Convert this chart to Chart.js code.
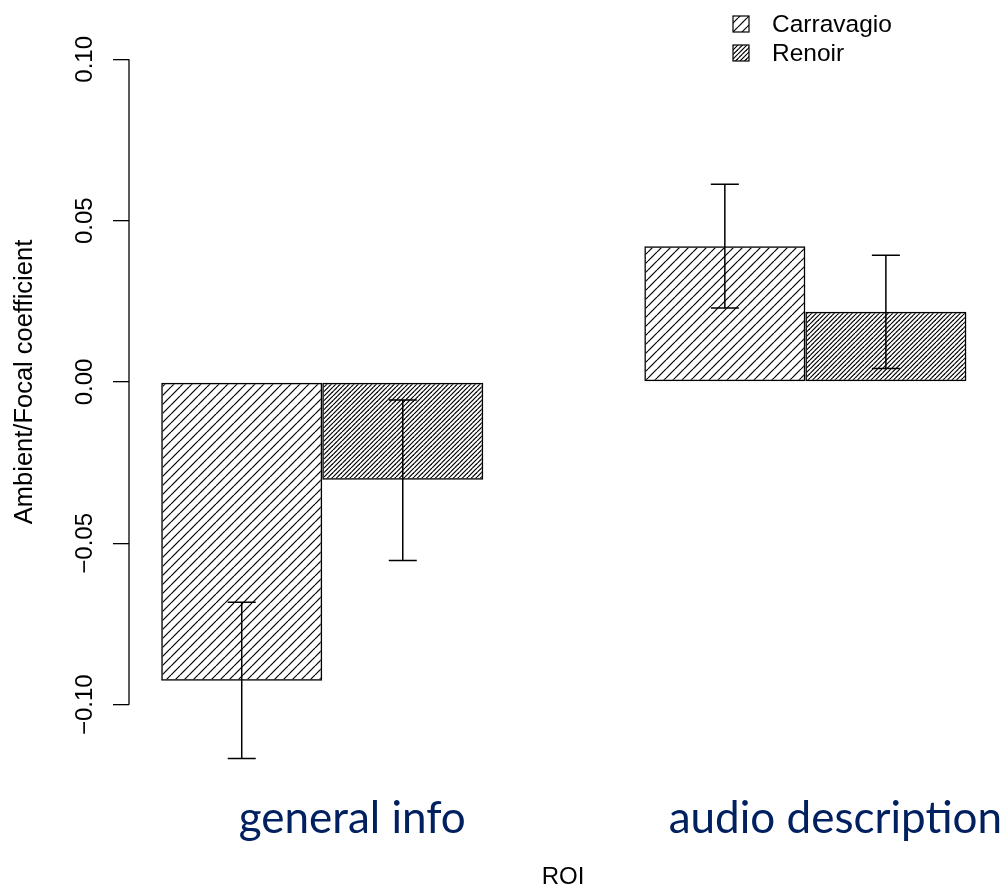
<!DOCTYPE html>
<html>
<head>
<meta charset="utf-8">
<script src="https://cdn.jsdelivr.net/npm/chart.js@4/dist/chart.umd.min.js"></script>
<style>
  html, body { margin: 0; padding: 0; background: #fff; }
  #wrap { width: 1008px; height: 890px; }
</style>
</head>
<body>
<div id="wrap"><canvas id="roiChart"></canvas></div>
<script>
// data
var roiLabels = ['general info', 'audio description'];
var seriesNames = ['Carravagio', 'Renoir'];
var carravagioMean = [-0.0926, 0.0421];
var carravagioLow = [-0.1167, 0.0229];
var carravagioHigh = [-0.0683, 0.0613];
var renoirMean = [-0.0303, 0.0218];
var renoirLow = [-0.0553, 0.0042];
var renoirHigh = [-0.0056, 0.0393];
var yTickValues = [-0.10, -0.05, 0.00, 0.05, 0.10];

var rFont = '"Liberation Sans", Arial, sans-serif';

// R barplot(beside=TRUE) layout: one bar of space, then the group's bars
function groupCentre(i) {
    var n = seriesNames.length;
    return 1 + n / 2 + i * (n + 1);
}

function hatch(size, step) {
    var c = document.createElement('canvas');
    c.width = size;
    c.height = size;
    var g = c.getContext('2d');
    g.strokeStyle = '#000';
    g.lineWidth = 1.2;
    for (var o = -size; o <= size; o += step) {
        g.beginPath();
        g.moveTo(o, size);
        g.lineTo(o + size, 0);
        g.stroke();
    }
    return g.createPattern(c, 'repeat');
}

function points(values) {
    return values.map(function(v, i) {
        return { x: groupCentre(i), y: v };
    });
}

var errorBars = {
    id: 'errorBars',
    afterDatasetsDraw: function(chart) {
        var ctx = chart.ctx;
        var y = chart.scales.y;
        var lows = [carravagioLow, renoirLow];
        var highs = [carravagioHigh, renoirHigh];
        ctx.save();
        ctx.strokeStyle = '#000';
        ctx.lineWidth = 1.5;
        chart.data.datasets.forEach(function(ds, d) {
            chart.getDatasetMeta(d).data.forEach(function(bar, j) {
                var top = y.getPixelForValue(highs[d][j]);
                var bot = y.getPixelForValue(lows[d][j]);
                ctx.beginPath();
                ctx.moveTo(bar.x, top);
                ctx.lineTo(bar.x, bot);
                ctx.moveTo(bar.x - 14, top);
                ctx.lineTo(bar.x + 14, top);
                ctx.moveTo(bar.x - 14, bot);
                ctx.lineTo(bar.x + 14, bot);
                ctx.stroke();
            });
        });
        ctx.restore();
    }
};

var rAxisAndLegend = {
    id: 'rAxisAndLegend',
    afterDraw: function(chart) {
        var ctx = chart.ctx;
        var y = chart.scales.y;
        ctx.save();
        // y axis line only across the tick range, like R
        ctx.strokeStyle = '#000';
        ctx.lineWidth = 1.3;
        ctx.beginPath();
        ctx.moveTo(y.right, y.getPixelForValue(yTickValues[0]));
        ctx.lineTo(y.right, y.getPixelForValue(yTickValues[yTickValues.length - 1]));
        ctx.stroke();

        // legend, top right
        ctx.font = '24.5px ' + rFont;
        ctx.textBaseline = 'middle';
        ctx.textAlign = 'left';
        chart.data.datasets.forEach(function(ds, i) {
            var cy = 24 + i * 29;
            ctx.fillStyle = ds.backgroundColor;
            ctx.fillRect(733, cy - 8, 16, 16);
            ctx.lineWidth = 1.2;
            ctx.strokeRect(733, cy - 8, 16, 16);
            ctx.fillStyle = '#000';
            ctx.fillText(ds.label, 772, cy + 1);
        });
        ctx.restore();
    }
};

var ctx = document.getElementById('roiChart').getContext('2d');
var roiChart = new Chart(ctx, {
    type: 'bar',
    data: {
        datasets: [{
            label: seriesNames[0],
            data: points(carravagioMean),
            backgroundColor: hatch(9, 9),
            borderColor: '#000',
            borderWidth: 1.5,
            borderSkipped: false
        }, {
            label: seriesNames[1],
            data: points(renoirMean),
            backgroundColor: hatch(9, 4.5),
            borderColor: '#000',
            borderWidth: 1.5,
            borderSkipped: false
        }]
    },
    plugins: [errorBars, rAxisAndLegend],
    options: {
        responsive: true,
        maintainAspectRatio: false,
        animation: false,
        events: [],
        categoryPercentage: 2 / 3,
        barPercentage: 1,
        layout: {
            padding: { top: 40, right: 11, left: 0, bottom: 0 }
        },
        plugins: {
            legend: { display: false },
            tooltip: { enabled: false }
        },
        scales: {
            x: {
                type: 'linear',
                bounds: 'data',
                offset: false,
                min: 0.8,
                max: 6.19,
                afterBuildTicks: function(scale) {
                    scale.ticks = roiLabels.map(function(l, i) {
                        return { value: groupCentre(i) };
                    });
                },
                afterFit: function(scale) {
                    scale.height = 166;
                },
                // invisible tick marks push the labels down without shrinking the plot
                grid: {
                    display: true,
                    offset: false,
                    drawOnChartArea: false,
                    drawTicks: true,
                    tickLength: 68,
                    color: 'rgba(0,0,0,0)'
                },
                border: { display: false },
                ticks: {
                    autoSkip: false,
                    minRotation: 0,
                    maxRotation: 0,
                    padding: 0,
                    labelOffset: 30,
                    color: '#002060',
                    font: { family: 'Lato, "Open Sans", sans-serif', size: 44 },
                    callback: function(value, index) {
                        return roiLabels[index];
                    }
                },
                title: {
                    display: true,
                    text: 'ROI',
                    color: '#000',
                    font: { family: rFont, size: 24, lineHeight: 1 },
                    padding: { top: 0, bottom: 1 }
                }
            },
            y: {
                bounds: 'data',
                min: -0.106,
                max: 0.106,
                afterBuildTicks: function(scale) {
                    scale.ticks = yTickValues.map(function(v) {
                        return { value: v };
                    });
                },
                afterFit: function(scale) {
                    scale.width = 129;
                },
                border: { display: false },
                grid: {
                    drawOnChartArea: false,
                    drawTicks: true,
                    tickLength: 16,
                    color: '#000',
                    lineWidth: 1.3
                },
                ticks: {
                    minRotation: 90,
                    maxRotation: 90,
                    crossAlign: 'center',
                    padding: -3,
                    color: '#000',
                    font: { family: rFont, size: 24 },
                    callback: function(value) {
                        return (value < 0 ? '\u2212' : '') + Math.abs(value).toFixed(2);
                    }
                },
                title: {
                    display: true,
                    text: 'Ambient/Focal coefficient',
                    color: '#000',
                    font: { family: rFont, size: 25.5, lineHeight: 1 },
                    padding: { top: 12, bottom: 0 }
                }
            }
        }
    }
});
</script>
</body>
</html>
